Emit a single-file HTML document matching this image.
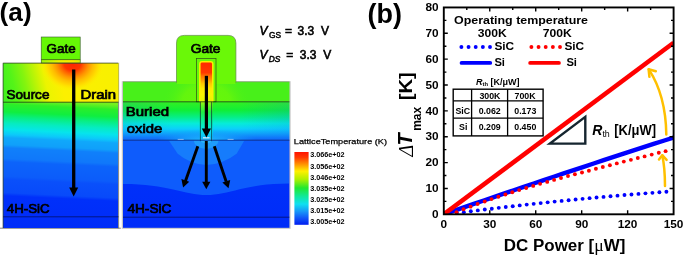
<!DOCTYPE html>
<html>
<head>
<meta charset="utf-8">
<title>Figure</title>
<style>
html,body{margin:0;padding:0;background:#fff;overflow:hidden;width:685px;height:255px;}
svg{display:block;will-change:transform;}
text{font-family:"Liberation Sans",sans-serif;fill:#000;}
.b{font-weight:bold;}
.sb{font-weight:normal;stroke:#000;stroke-width:0.7px;}
.i{font-style:italic;}
.ser{font-family:"Liberation Serif",serif;}
</style>
</head>
<body>
<svg width="685" height="255" viewBox="0 0 685 255">
<defs>
  <!-- left device: vertical bands below interface -->
  <linearGradient id="gL" gradientUnits="userSpaceOnUse" x1="64" y1="102" x2="58" y2="228">
    <stop offset="0" stop-color="#74f020"/>
    <stop offset="0.04" stop-color="#2cee28"/>
    <stop offset="0.10" stop-color="#10ee40"/>
    <stop offset="0.14" stop-color="#08ee80"/>
    <stop offset="0.19" stop-color="#06ecc0"/>
    <stop offset="0.24" stop-color="#06e4ec"/>
    <stop offset="0.28" stop-color="#0cc8fa"/>
    <stop offset="0.305" stop-color="#10a8fa"/>
    <stop offset="0.36" stop-color="#10a0fa"/>
    <stop offset="0.385" stop-color="#1080fa"/>
    <stop offset="0.47" stop-color="#1078fa"/>
    <stop offset="0.495" stop-color="#0c64fa"/>
    <stop offset="0.61" stop-color="#0c5cfa"/>
    <stop offset="0.635" stop-color="#0a50fa"/>
    <stop offset="0.74" stop-color="#084afa"/>
    <stop offset="0.765" stop-color="#0030fa"/>
    <stop offset="1" stop-color="#002cf8"/>
  </linearGradient>
  <!-- left device hot spot -->
  <linearGradient id="hotL" gradientUnits="userSpaceOnUse" x1="3" y1="92" x2="118" y2="64">
    <stop offset="0" stop-color="#40f01e"/>
    <stop offset="0.1" stop-color="#54f418"/>
    <stop offset="0.2" stop-color="#84f40e"/>
    <stop offset="0.29" stop-color="#bcf406"/>
    <stop offset="0.37" stop-color="#ecf400"/>
    <stop offset="0.5" stop-color="#fcf000"/>
    <stop offset="1" stop-color="#f8f000"/>
  </linearGradient>
  <radialGradient id="hotL2" gradientUnits="userSpaceOnUse" cx="72.5" cy="63.4" r="28" gradientTransform="translate(72.5 63.4) scale(1.14 1) translate(-72.5 -63.4)">
    <stop offset="0" stop-color="#ff2400"/>
    <stop offset="0.26" stop-color="#ff3400"/>
    <stop offset="0.36" stop-color="#ff6000"/>
    <stop offset="0.5" stop-color="#ff9400"/>
    <stop offset="0.64" stop-color="#ffbc00"/>
    <stop offset="0.8" stop-color="#ffdc00"/>
    <stop offset="1" stop-color="#fcf200" stop-opacity="0"/>
  </radialGradient>
  <linearGradient id="gStrip" gradientUnits="userSpaceOnUse" x1="41" y1="0" x2="80" y2="0">
    <stop offset="0" stop-color="#98f808"/>
    <stop offset="0.45" stop-color="#e8f400"/>
    <stop offset="0.8" stop-color="#f8ec00"/>
    <stop offset="1" stop-color="#d0f404"/>
  </linearGradient>
  <clipPath id="clipTopL"><rect x="3" y="63" width="115.5" height="39.3"/></clipPath>
  <clipPath id="clipGateL"><rect x="41.5" y="37" width="39.2" height="26"/></clipPath>

  <!-- right device gradients -->
  <linearGradient id="gBox" gradientUnits="userSpaceOnUse" x1="0" y1="101.8" x2="0" y2="140.4">
    <stop offset="0" stop-color="#34f020"/>
    <stop offset="0.22" stop-color="#10ee38"/>
    <stop offset="0.4" stop-color="#06ee88"/>
    <stop offset="0.56" stop-color="#06ecd8"/>
    <stop offset="0.7" stop-color="#0cd0fa"/>
    <stop offset="0.82" stop-color="#10a4fa"/>
    <stop offset="0.92" stop-color="#107cfa"/>
    <stop offset="1" stop-color="#1060fa"/>
  </linearGradient>
  <linearGradient id="gSub" gradientUnits="userSpaceOnUse" x1="0" y1="140.5" x2="0" y2="228">
    <stop offset="0" stop-color="#0034fa"/>
    <stop offset="1" stop-color="#002cf8"/>
  </linearGradient>
  <radialGradient id="halo" gradientUnits="userSpaceOnUse" cx="206" cy="140.5" r="24" gradientTransform="translate(206 140.5) scale(1.7 1) translate(-206 -140.5)">
    <stop offset="0" stop-color="#18b8f6"/>
    <stop offset="0.3" stop-color="#1490f6"/>
    <stop offset="0.6" stop-color="#1070f6"/>
    <stop offset="0.95" stop-color="#0c58f6"/>
    <stop offset="1" stop-color="#0c58f6" stop-opacity="0"/>
  </radialGradient>
  <linearGradient id="gFin" gradientUnits="userSpaceOnUse" x1="0" y1="61.8" x2="0" y2="140.2">
    <stop offset="0" stop-color="#ff2800"/>
    <stop offset="0.14" stop-color="#ff3800"/>
    <stop offset="0.18" stop-color="#ff7000"/>
    <stop offset="0.23" stop-color="#ff9800"/>
    <stop offset="0.28" stop-color="#ffc800"/>
    <stop offset="0.34" stop-color="#ffe800"/>
    <stop offset="0.42" stop-color="#f8f400"/>
    <stop offset="0.5" stop-color="#e4f404"/>
    <stop offset="0.53" stop-color="#80f418"/>
    <stop offset="0.64" stop-color="#20ee40"/>
    <stop offset="0.76" stop-color="#08eea0"/>
    <stop offset="0.88" stop-color="#08e4ec"/>
    <stop offset="0.96" stop-color="#10c0fa"/>
    <stop offset="1" stop-color="#30c0fa"/>
  </linearGradient>
  <linearGradient id="gOx" gradientUnits="userSpaceOnUse" x1="0" y1="58" x2="0" y2="102">
    <stop offset="0" stop-color="#ffe000"/>
    <stop offset="0.25" stop-color="#f0f000"/>
    <stop offset="0.6" stop-color="#c8f010"/>
    <stop offset="1" stop-color="#90ee20"/>
  </linearGradient>
  <radialGradient id="haloSh" gradientUnits="userSpaceOnUse" cx="206.5" cy="103" r="34" gradientTransform="translate(206.5 103) scale(1.3 1) translate(-206.5 -103)">
    <stop offset="0" stop-color="#6af808"/>
    <stop offset="0.55" stop-color="#66f60c" stop-opacity="0.9"/>
    <stop offset="1" stop-color="#48f01a" stop-opacity="0"/>
  </radialGradient>
  <clipPath id="clipSh"><rect x="123" y="81.8" width="166.4" height="20"/></clipPath>
  <linearGradient id="gBoxEdge" gradientUnits="userSpaceOnUse" x1="123" y1="0" x2="289.4" y2="0">
    <stop offset="0" stop-color="#1070f6" stop-opacity="0.16"/>
    <stop offset="0.3" stop-color="#1070f6" stop-opacity="0"/>
    <stop offset="0.7" stop-color="#1070f6" stop-opacity="0"/>
    <stop offset="1" stop-color="#1070f6" stop-opacity="0.16"/>
  </linearGradient>
  <radialGradient id="oxGlow" gradientUnits="userSpaceOnUse" cx="206.2" cy="141" r="12" gradientTransform="translate(206.2 141) scale(4.2 1) translate(-206.2 -141)">
    <stop offset="0" stop-color="#20c4fc" stop-opacity="0.95"/>
    <stop offset="0.45" stop-color="#18acfc" stop-opacity="0.7"/>
    <stop offset="1" stop-color="#10a0fa" stop-opacity="0"/>
  </radialGradient>
  <clipPath id="clipOx"><rect x="123" y="101.8" width="166.4" height="38.4"/></clipPath>
  <clipPath id="clipSub"><rect x="123" y="140.5" width="166" height="87.5"/></clipPath>

  <linearGradient id="cbar" gradientUnits="userSpaceOnUse" x1="0" y1="151.5" x2="0" y2="224.5">
    <stop offset="0" stop-color="#ff1000"/>
    <stop offset="0.08" stop-color="#ff3800"/>
    <stop offset="0.18" stop-color="#ff9800"/>
    <stop offset="0.27" stop-color="#fff000"/>
    <stop offset="0.38" stop-color="#b0f000"/>
    <stop offset="0.5" stop-color="#20e830"/>
    <stop offset="0.62" stop-color="#10e8a0"/>
    <stop offset="0.72" stop-color="#10e0f0"/>
    <stop offset="0.82" stop-color="#1898f8"/>
    <stop offset="0.92" stop-color="#1050f8"/>
    <stop offset="1" stop-color="#0020f0"/>
  </linearGradient>
  <marker id="ahk" viewBox="0 0 10 10" refX="0" refY="5" markerWidth="10" markerHeight="10" markerUnits="userSpaceOnUse" orient="auto">
    <path d="M0,0 L10,5 L0,10 Z" fill="#000"/>
  </marker>
</defs>

<rect x="0" y="0" width="685" height="255" fill="#fff"/>

<!-- ================= (a) ================= -->
<text x="-0.4" y="20.7" class="b" font-size="26.2" textLength="32" lengthAdjust="spacingAndGlyphs">(a)</text>

<!-- left device -->
<g id="devL">
  <rect x="2.6" y="62.6" width="116.6" height="165.8" fill="#c8c8c8"/>
  <path d="M118.2,63V228.2 M0,228.2H120.8" stroke="#505050" stroke-width="0.7" fill="none"/>
  <rect x="3" y="63" width="115" height="165" fill="url(#gL)"/>
  <g clip-path="url(#clipTopL)"><rect x="0" y="60" width="125" height="50" fill="url(#hotL)"/><rect x="0" y="60" width="125" height="50" fill="url(#hotL2)"/></g>
  <rect x="41.2" y="37" width="39" height="26" fill="#66f806"/>
  <rect x="41.2" y="59.6" width="39" height="3.4" fill="url(#gStrip)"/>
  <rect x="41.2" y="37" width="39" height="26" fill="none" stroke="#3a5a30" stroke-width="0.6"/>
  <line x1="41.2" y1="59.6" x2="80.2" y2="59.6" stroke="#2a4a18" stroke-width="0.7"/>
  <path d="M3.2,228 V63.2 H118" stroke="#34482c" stroke-width="0.7" fill="none"/>
  <line x1="3" y1="102.2" x2="118.5" y2="102.2" stroke="#143a14" stroke-width="0.8"/>
  <line x1="3" y1="216.8" x2="118.5" y2="216.8" stroke="#00106a" stroke-width="0.8"/>
  
  <!-- arrow -->
  <line x1="73.7" y1="69.5" x2="73.7" y2="189" stroke="#000" stroke-width="3.3"/>
  <path d="M69.2,187.6 L78.2,187.6 L73.7,196.6 Z" fill="#000"/>
  <text x="46.6" y="52.9" class="sb" font-size="12.6" textLength="29" lengthAdjust="spacingAndGlyphs">Gate</text>
  <text x="6.6" y="98.9" class="sb" font-size="12.6" textLength="42.8" lengthAdjust="spacingAndGlyphs">Source</text>
  <text x="80.5" y="99.2" class="sb" font-size="12.6" textLength="35.6" lengthAdjust="spacingAndGlyphs">Drain</text>
  <text x="6.8" y="212.7" class="sb" font-size="12.9" textLength="42.8" lengthAdjust="spacingAndGlyphs" fill="#000a30">4H-SiC</text>
</g>

<!-- right device -->
<g id="devR">
  <rect x="121.8" y="81.2" width="168.8" height="147.6" fill="#c4c4c4"/>
  <!-- substrate -->
  <rect x="123" y="140.2" width="166.4" height="87.6" fill="url(#gSub)"/>
  <g clip-path="url(#clipSub)">
    <path d="M123,184 C168,184 184,195 206.4,195 C229,195 245,183.4 289.4,183.4 L289.4,140 L123,140 Z" fill="#0e5cfc"/>
    <path d="M168.5,140 L177.7,153.7 Q190,164.2 206.5,165 Q223,164.2 236.6,153.7 L244.7,140 Z" fill="#167cfc"/>
    <ellipse cx="206.2" cy="139.8" rx="12.4" ry="9.2" fill="#1e9cfc"/>
    <ellipse cx="206.2" cy="139.8" rx="6" ry="3.4" fill="#28b4fc"/>
  </g>
  <!-- buried oxide -->
  <rect x="123" y="101.8" width="166.4" height="38.6" fill="url(#gBox)"/>
  <rect x="123" y="101.8" width="166.4" height="38.6" fill="url(#gBoxEdge)"/>
  <g clip-path="url(#clipOx)"><ellipse cx="206.2" cy="141" rx="51" ry="12" fill="url(#oxGlow)"/></g>
  <!-- shoulders -->
  <rect x="123" y="81.8" width="166.4" height="20" fill="#48f01a"/>
  <g clip-path="url(#clipSh)"><ellipse cx="206.5" cy="103" rx="44" ry="34" fill="url(#haloSh)"/></g>
  <line x1="123" y1="81.8" x2="289.4" y2="81.8" stroke="#7a9a6a" stroke-width="0.6"/>
  <!-- gate hump -->
  <path d="M176.5,82.4 L176.5,43.2 Q176.5,35.4 184.3,35.4 L228.1,35.4 Q235.9,35.4 235.9,43.2 L235.9,82.4 Z" fill="#6af808" stroke="#5f8a45" stroke-width="0.7"/>
  <rect x="177" y="80" width="58.4" height="4" fill="#6af808"/>
  <!-- oxide around fin -->
  <rect x="196.4" y="58.6" width="19.6" height="43.2" fill="#6af808" stroke="#2f4a1c" stroke-width="0.7"/>
  <!-- fin -->
  <path d="M199.8,140.2 L199.8,64 Q199.8,61.8 202,61.8 L210.6,61.8 Q212.8,61.8 212.8,64 L212.8,140.2 Z" fill="url(#gFin)"/>
  <path d="M199.8,101.8 L199.8,64 Q199.8,61.8 202,61.8 L210.6,61.8 Q212.8,61.8 212.8,64 L212.8,101.8" fill="none" stroke="#fbf000" stroke-width="1.5"/>
  <line x1="200.4" y1="101.8" x2="200.4" y2="141.2" stroke="#0a2a30" stroke-width="0.7"/>
  <line x1="211.6" y1="101.8" x2="211.6" y2="141.2" stroke="#0a2a30" stroke-width="0.7"/>
  <line x1="123" y1="101.8" x2="289.4" y2="101.8" stroke="#143a14" stroke-width="0.8"/>
  <line x1="123" y1="140.2" x2="289.4" y2="140.2" stroke="#0a2a7a" stroke-width="0.8"/>
  <path d="M177.7,139.4h6 M227.6,139.4h6" stroke="#a8c4f0" stroke-width="0.8"/>
  <path d="M203,137.8h6.6" stroke="#e8f0ff" stroke-width="1.1"/>
  <line x1="123" y1="217.2" x2="289.4" y2="217.2" stroke="#00106a" stroke-width="0.8"/>
  <!-- arrows -->
  <line x1="206.4" y1="75.8" x2="206.4" y2="130" stroke="#000" stroke-width="3.2"/>
  <path d="M201.8,128.4 L211,128.4 L206.4,137.4 Z" fill="#000"/>
  <line x1="206.3" y1="141" x2="206.3" y2="183.5" stroke="#000" stroke-width="2.9"/>
  <path d="M202.2,181.8 L210.4,181.8 L206.3,189.2 Z" fill="#000"/>
  <line x1="197.8" y1="146.3" x2="185.4" y2="181.2" stroke="#000" stroke-width="2.9"/>
  <path d="M181.4,178.9 L189.2,181.7 L183.1,187.4 Z" fill="#000"/>
  <line x1="214.3" y1="146.3" x2="226.2" y2="181.6" stroke="#000" stroke-width="2.9"/>
  <path d="M222.4,182.5 L230.2,179.9 L228.5,188.2 Z" fill="#000"/>
  <text x="190.7" y="52.7" class="sb" font-size="12.8" textLength="29.8" lengthAdjust="spacingAndGlyphs">Gate</text>
  <text x="125.7" y="116.2" class="sb" font-size="12.6" textLength="43.4" lengthAdjust="spacingAndGlyphs">Buried</text>
  <text x="126.7" y="132.7" class="sb" font-size="12.6" textLength="35.6" lengthAdjust="spacingAndGlyphs">oxide</text>
  <text x="127.4" y="213.1" class="sb" font-size="12.9" textLength="44" lengthAdjust="spacingAndGlyphs" fill="#000a30">4H-SiC</text>
</g>

<!-- voltages -->
<g font-size="12" stroke="#000" stroke-width="0.6">
  <text x="259.6" y="34.8" class="i">V</text>
  <text x="268.9" y="37.6" font-size="8.4" stroke-width="0.45">GS</text>
  <text x="284.9" y="34.8">=</text>
  <text x="297.6" y="34.8" textLength="16.6" lengthAdjust="spacingAndGlyphs">3.3</text>
  <text x="321" y="34.8">V</text>
  <text x="259.6" y="58.8" class="i">V</text>
  <text x="268.8" y="61.6" font-size="8.4" class="i" stroke-width="0.45">DS</text>
  <text x="286.2" y="58.8">=</text>
  <text x="299.8" y="58.8" textLength="16.6" lengthAdjust="spacingAndGlyphs">3.3</text>
  <text x="323.2" y="58.8">V</text>
</g>

<!-- colour bar -->
<text x="293.8" y="143.9" font-size="7.8" textLength="93.2" lengthAdjust="spacingAndGlyphs" stroke="#000" stroke-width="0.25">LatticeTemperature (K)</text>
<rect x="294.4" y="152" width="14.2" height="72.8" fill="url(#cbar)"/>
<g class="b" font-size="6.9">
  <text x="310.2" y="157.4" textLength="34.4" lengthAdjust="spacingAndGlyphs">3.066e+02</text>
  <text x="310.2" y="168.6" textLength="34.4" lengthAdjust="spacingAndGlyphs">3.056e+02</text>
  <text x="310.2" y="179.7" textLength="34.4" lengthAdjust="spacingAndGlyphs">3.046e+02</text>
  <text x="310.2" y="190.9" textLength="34.4" lengthAdjust="spacingAndGlyphs">3.035e+02</text>
  <text x="310.2" y="202.1" textLength="34.4" lengthAdjust="spacingAndGlyphs">3.025e+02</text>
  <text x="310.2" y="213.2" textLength="34.4" lengthAdjust="spacingAndGlyphs">3.015e+02</text>
  <text x="310.2" y="224.4" textLength="34.4" lengthAdjust="spacingAndGlyphs">3.005e+02</text>
</g>

<!-- ================= (b) ================= -->
<text x="367.6" y="22.6" class="b" font-size="27.6" textLength="34.4" lengthAdjust="spacingAndGlyphs">(b)</text>

<g id="plot">
  <clipPath id="clipPlot"><rect x="443.8" y="7.45" width="229.80" height="206.85"/></clipPath>
  <g clip-path="url(#clipPlot)">
    <g fill="#0000ff"><circle cx="666.40" cy="191.79" r="1.95"/><circle cx="659.41" cy="192.30" r="1.95"/><circle cx="652.43" cy="192.83" r="1.95"/><circle cx="645.44" cy="193.37" r="1.95"/><circle cx="638.46" cy="193.92" r="1.95"/><circle cx="631.48" cy="194.48" r="1.95"/><circle cx="624.49" cy="195.06" r="1.95"/><circle cx="617.50" cy="195.66" r="1.95"/><circle cx="610.52" cy="196.26" r="1.95"/><circle cx="603.53" cy="196.89" r="1.95"/><circle cx="596.55" cy="197.52" r="1.95"/><circle cx="589.56" cy="198.17" r="1.95"/><circle cx="582.58" cy="198.83" r="1.95"/><circle cx="575.60" cy="199.51" r="1.95"/><circle cx="568.61" cy="200.19" r="1.95"/><circle cx="561.62" cy="200.90" r="1.95"/><circle cx="554.64" cy="201.61" r="1.95"/><circle cx="547.65" cy="202.34" r="1.95"/><circle cx="540.67" cy="203.09" r="1.95"/><circle cx="533.68" cy="203.85" r="1.95"/><circle cx="526.70" cy="204.62" r="1.95"/><circle cx="519.71" cy="205.40" r="1.95"/><circle cx="512.73" cy="206.20" r="1.95"/><circle cx="505.75" cy="207.01" r="1.95"/><circle cx="498.76" cy="207.84" r="1.95"/><circle cx="491.77" cy="208.68" r="1.95"/><circle cx="484.79" cy="209.53" r="1.95"/><circle cx="477.80" cy="210.40" r="1.95"/><circle cx="470.82" cy="211.28" r="1.95"/><circle cx="463.83" cy="212.17" r="1.95"/><circle cx="456.85" cy="213.08" r="1.95"/><circle cx="449.87" cy="214.00" r="1.95"/></g>
    <polyline points="443.80,214.30 453.79,210.83 463.78,207.36 473.77,203.92 483.77,200.48 493.76,197.05 503.75,193.64 513.74,190.24 523.73,186.86 533.72,183.48 543.71,180.12 553.70,176.77 563.70,173.43 573.69,170.11 583.68,166.79 593.67,163.49 603.66,160.20 613.65,156.93 623.64,153.67 633.63,150.41 643.63,147.18 653.62,143.95 663.61,140.74 673.60,137.53" fill="none" stroke="#0000ff" stroke-width="4.4"/>
    <g fill="#ff0000"><circle cx="456.50" cy="212.14" r="1.95"/><circle cx="463.50" cy="209.32" r="1.95"/><circle cx="470.60" cy="206.67" r="1.95"/><circle cx="477.60" cy="204.03" r="1.95"/><circle cx="484.70" cy="201.51" r="1.95"/><circle cx="491.50" cy="199.12" r="1.95"/><circle cx="498.40" cy="196.70" r="1.95"/><circle cx="505.40" cy="194.55" r="1.95"/><circle cx="512.30" cy="192.24" r="1.95"/><circle cx="519.20" cy="190.10" r="1.95"/><circle cx="526.20" cy="187.93" r="1.95"/><circle cx="533.20" cy="185.89" r="1.95"/><circle cx="540.10" cy="183.83" r="1.95"/><circle cx="547.20" cy="181.91" r="1.95"/><circle cx="554.10" cy="179.89" r="1.95"/><circle cx="561.00" cy="177.94" r="1.95"/><circle cx="568.00" cy="176.04" r="1.95"/><circle cx="574.90" cy="174.27" r="1.95"/><circle cx="582.00" cy="172.44" r="1.95"/><circle cx="588.90" cy="170.79" r="1.95"/><circle cx="595.90" cy="168.78" r="1.95"/><circle cx="602.80" cy="167.00" r="1.95"/><circle cx="609.90" cy="165.20" r="1.95"/><circle cx="616.80" cy="163.38" r="1.95"/><circle cx="623.80" cy="161.59" r="1.95"/><circle cx="630.90" cy="159.85" r="1.95"/><circle cx="637.80" cy="158.07" r="1.95"/><circle cx="644.60" cy="156.41" r="1.95"/><circle cx="651.70" cy="154.61" r="1.95"/><circle cx="658.80" cy="152.74" r="1.95"/><circle cx="665.60" cy="151.16" r="1.95"/></g>
    <line x1="443.8" y1="214.3" x2="673.6" y2="42.70" stroke="#ff0000" stroke-width="4.5"/>
  </g>
  <rect x="443.8" y="7.45" width="229.80" height="206.85" fill="none" stroke="#000" stroke-width="1.9"/>
  <path d="M466.78,7.45v2.6 M489.76,214.3v-4.0 M489.76,7.45v4.0 M512.74,7.45v2.6 M535.72,214.3v-4.0 M535.72,7.45v4.0 M558.70,7.45v2.6 M581.68,214.3v-4.0 M581.68,7.45v4.0 M604.66,7.45v2.6 M627.64,214.3v-4.0 M627.64,7.45v4.0 M650.62,7.45v2.6 M443.8,201.37h2.6 M673.6,201.37h-2.6 M443.8,188.44h4.0 M673.6,188.44h-4.0 M443.8,175.52h2.6 M673.6,175.52h-2.6 M443.8,162.59h4.0 M673.6,162.59h-4.0 M443.8,149.66h2.6 M673.6,149.66h-2.6 M443.8,136.73h4.0 M673.6,136.73h-4.0 M443.8,123.80h2.6 M673.6,123.80h-2.6 M443.8,110.88h4.0 M673.6,110.88h-4.0 M443.8,97.95h2.6 M673.6,97.95h-2.6 M443.8,85.02h4.0 M673.6,85.02h-4.0 M443.8,72.09h2.6 M673.6,72.09h-2.6 M443.8,59.16h4.0 M673.6,59.16h-4.0 M443.8,46.23h2.6 M673.6,46.23h-2.6 M443.8,33.31h4.0 M673.6,33.31h-4.0 M443.8,20.38h2.6 M673.6,20.38h-2.6" stroke="#000" stroke-width="1.4" fill="none"/>
  <g class="b" font-size="11.8" text-anchor="middle">
    <text x="443.8" y="228.2">0</text>
    <text x="489.8" y="228.2">30</text>
    <text x="535.7" y="228.2">60</text>
    <text x="581.7" y="228.2">90</text>
    <text x="627.6" y="228.2">120</text>
    <text x="673.6" y="228.2">150</text>
  </g>
  <g class="b" font-size="11.8" text-anchor="end">
    <text x="438.5" y="217.9">0</text>
    <text x="438.5" y="192.0">10</text>
    <text x="438.5" y="166.2">20</text>
    <text x="438.5" y="140.3">30</text>
    <text x="438.5" y="114.5">40</text>
    <text x="438.5" y="88.6">50</text>
    <text x="438.5" y="62.8">60</text>
    <text x="438.5" y="36.9">70</text>
    <text x="438.5" y="11.0">80</text>
  </g>

  <!-- axis titles -->
  <text x="503.8" y="250.5" class="b" font-size="16.8" textLength="121.6" lengthAdjust="spacingAndGlyphs">DC Power [<tspan class="ser" font-weight="normal" font-size="17.5">μ</tspan>W]</text>
  <g transform="translate(412.2 156) rotate(-90)">
    <text x="-0.6" y="0.6" class="ser i" font-size="20">Δ</text>
    <text x="10.6" y="0" class="b i" font-size="20">T</text>
    <text x="25.2" y="8.4" class="b" font-size="12.4" textLength="24" lengthAdjust="spacingAndGlyphs">max</text>
    <text x="55.8" y="0" class="b" font-size="18.6" textLength="28" lengthAdjust="spacingAndGlyphs">[K]</text>
  </g>

  <!-- legend -->
  <text x="454" y="23.7" class="b" font-size="10.9" textLength="134" lengthAdjust="spacingAndGlyphs">Operating temperature</text>
  <text x="477.8" y="37.4" class="b" font-size="10.9" textLength="29" lengthAdjust="spacingAndGlyphs">300K</text>
  <text x="542.8" y="37.4" class="b" font-size="10.9" textLength="29" lengthAdjust="spacingAndGlyphs">700K</text>
  <g fill="#0000ff"><circle cx="461.40" cy="47" r="1.95"/><circle cx="468.55" cy="47" r="1.95"/><circle cx="475.70" cy="47" r="1.95"/><circle cx="482.85" cy="47" r="1.95"/><circle cx="490.00" cy="47" r="1.95"/></g>
  <g fill="#ff0000"><circle cx="531.40" cy="47" r="1.95"/><circle cx="538.55" cy="47" r="1.95"/><circle cx="545.70" cy="47" r="1.95"/><circle cx="552.85" cy="47" r="1.95"/><circle cx="560.00" cy="47" r="1.95"/></g>
  <line x1="461.6" y1="62.9" x2="490.2" y2="62.9" stroke="#0000ff" stroke-width="3.9" stroke-linecap="round"/>
  <line x1="530.2" y1="62.9" x2="558.9" y2="62.9" stroke="#ff0000" stroke-width="3.9" stroke-linecap="round"/>
  <text x="494.4" y="50.4" class="b" font-size="11.2" textLength="19.8" lengthAdjust="spacingAndGlyphs">SiC</text>
  <text x="564.4" y="50.4" class="b" font-size="11.2" textLength="19.8" lengthAdjust="spacingAndGlyphs">SiC</text>
  <text x="494.4" y="66.3" class="b" font-size="11.2">Si</text>
  <text x="566.4" y="66.3" class="b" font-size="11.2">Si</text>

  <!-- table -->
  <text x="476" y="85.1" class="b" font-size="9"><tspan class="i">R</tspan><tspan font-size="5.8" dy="1">th</tspan><tspan dy="-1"> [K/μW]</tspan></text>
  <rect x="453.2" y="89.2" width="89.9" height="46.7" fill="#fff" stroke="#000" stroke-width="1.4"/>
  <path d="M453.2,100.8H543.1 M453.2,118.1H543.1 M471.6,89.2V135.9 M507.6,89.2V135.9" stroke="#000" stroke-width="1.3" fill="none"/>
  <g class="b" font-size="8.8" text-anchor="middle">
    <text x="489.9" y="98.8">300K</text>
    <text x="525" y="98.8">700K</text>
    <text x="462.8" y="114.1">SiC</text>
    <text x="489.7" y="114.1">0.062</text>
    <text x="525.3" y="114.1">0.173</text>
    <text x="463.2" y="130">Si</text>
    <text x="489.7" y="130">0.209</text>
    <text x="525.3" y="130">0.450</text>
  </g>

  <!-- slope triangle -->
  <path d="M549.9,143.6 L585.3,143.6 L585.3,116.8 Z" fill="none" stroke="#15252f" stroke-width="2.4" stroke-linejoin="miter"/>
  <text x="592.2" y="134.9" class="b i" font-size="14">R</text>
  <text x="602.4" y="137.4" font-size="9.4" textLength="7.4" lengthAdjust="spacingAndGlyphs">th</text>
  <text x="614.3" y="134.9" class="b" font-size="14" textLength="41.8" lengthAdjust="spacingAndGlyphs">[K/μW]</text>

  <!-- yellow arrows -->
  <g fill="none" stroke="#ffc000" stroke-width="2.5" stroke-linecap="round" stroke-linejoin="round">
    <path d="M666.3,134.5 C666,112 661,88 648.8,69.4"/>
    <path d="M649.4,76.8 L648.6,69.2 L655.8,71.2"/>
    <path d="M665,186 C665,176 664.6,166 662.3,155.4"/>
    <path d="M659,159.4 L662.2,155.2 L666.6,159.8"/>
  </g>
</g>
</svg>
</body>
</html>
